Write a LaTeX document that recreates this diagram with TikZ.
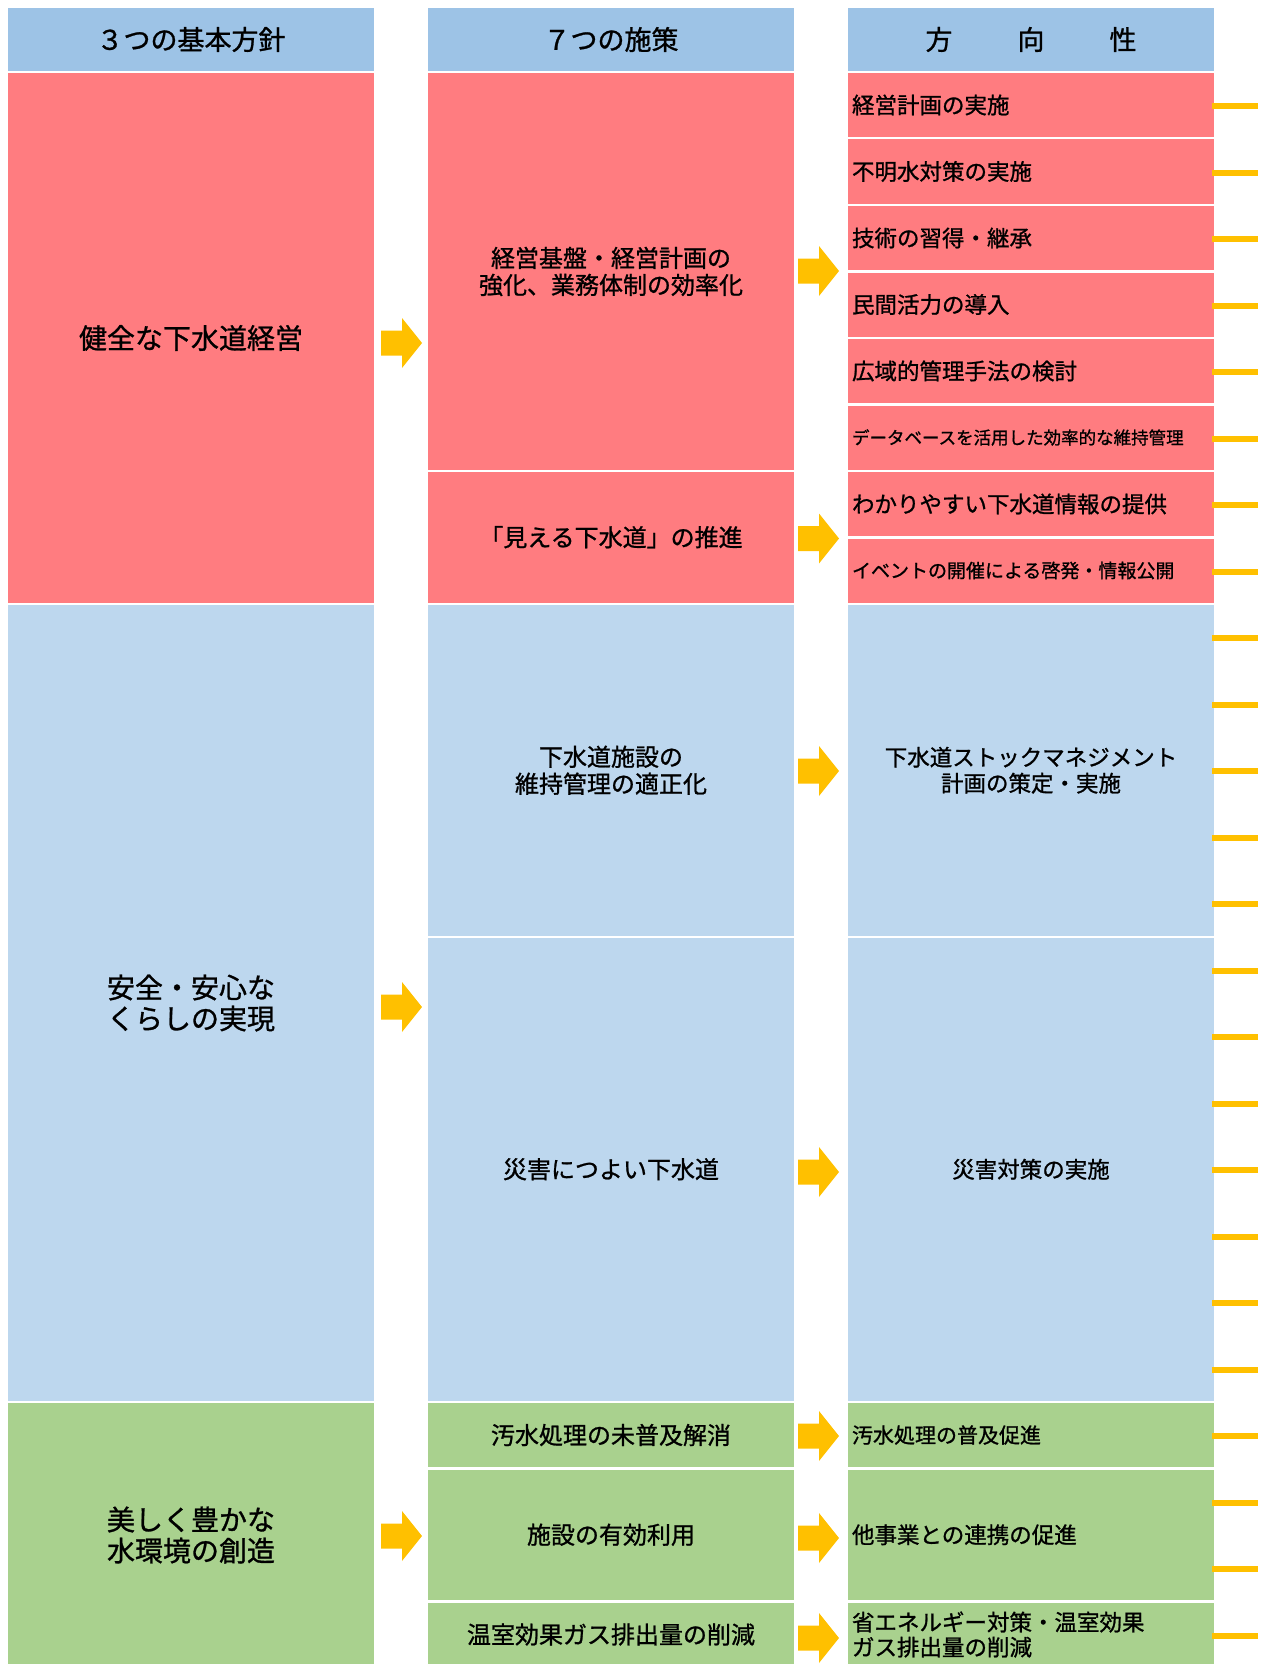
\documentclass[tikz,border=0pt]{standalone}
\usepackage{fontspec}
\setmainfont{Noto Sans CJK JP}[FakeBold=1]
\definecolor{hdr}{HTML}{9DC3E6}
\definecolor{redc}{HTML}{FF7C80}
\definecolor{bluec}{HTML}{BDD7EE}
\definecolor{greenc}{HTML}{A9D18E}
\definecolor{yelc}{HTML}{FFC000}
\newcommand{\fsz}[2]{\fontsize{#1}{#2}\selectfont}
\begin{document}
\begin{tikzpicture}[x=1pt,y=-1pt,
  box/.style={anchor=north west, minimum width=366, inner sep=0pt, outer sep=0pt, text=black, align=center},
  lbox/.style={box, text width=358, inner xsep=4pt, align=left},
  hdrbox/.style={box, fill=hdr, minimum height=63, font=\fsz{27}{31}},
  tickline/.style={draw=yelc, line width=6pt},
  blockarrow/.pic={\fill[yelc] (-20.5,-12.5) -- (0.5,-12.5) -- (0.5,-25) -- (20.5,0) -- (0.5,25) -- (0.5,12.5) -- (-20.5,12.5) -- cycle;}
]
\useasboundingbox (0,0) rectangle (1268,1664);
\clip (0,0) rectangle (1268,1664);

% headers
\node[hdrbox] (h1) at (8,8) {３つの基本方針};
\node[hdrbox] (h2) at (428,8) {７つの施策};
\node[hdrbox] (h3) at (848,8) {方\hspace{65pt}向\hspace{65pt}性};

% column 1
\node[box, fill=redc, minimum height=530, font=\fsz{28}{31}] (c1a) at (8,73) {健全な下水道経営};
\node[box, fill=bluec, minimum height=796, font=\fsz{28}{31}, align=left] (c1b) at (8,605) {安全・安心な\\くらしの実現};
\node[box, fill=greenc, minimum height=264, font=\fsz{28}{31}, align=left] (c1c) at (8,1403) {美しく豊かな\\水環境の創造};

% column 2
\node[box, fill=redc, minimum height=397, font=\fsz{24}{27}] (c2a) at (428,73) {経営基盤・経営計画の\\強化、業務体制の効率化};
\node[box, fill=redc, minimum height=130.5, font=\fsz{24}{27}] (c2b) at (428,472) {「見える下水道」の推進};
\node[box, fill=bluec, minimum height=330.5, font=\fsz{24}{27}] (c2c) at (428,605) {下水道施設の\\維持管理の適正化};
\node[box, fill=bluec, minimum height=463.5, font=\fsz{24}{27}] (c2d) at (428,937.5) {災害につよい下水道};
\node[box, fill=greenc, minimum height=64, font=\fsz{24}{27}] (c2e) at (428,1403) {汚水処理の未普及解消};
\node[box, fill=greenc, minimum height=130.5, font=\fsz{24}{27}] (c2f) at (428,1469.5) {施設の有効利用};
\node[box, fill=greenc, minimum height=64, font=\fsz{24}{27}] (c2g) at (428,1602.5) {温室効果ガス排出量の削減};

% column 3
\node[lbox, fill=redc, minimum height=64, font=\fsz{22.5}{26}] (c3a) at (848,73) {経営計画の実施};
\node[lbox, fill=redc, minimum height=64, font=\fsz{22.5}{26}] (c3b) at (848,139.5) {不明水対策の実施};
\node[lbox, fill=redc, minimum height=64, font=\fsz{22.5}{26}] (c3c) at (848,206) {技術の習得・継承};
\node[lbox, fill=redc, minimum height=64, font=\fsz{22.5}{26}] (c3d) at (848,272.5) {民間活力の導入};
\node[lbox, fill=redc, minimum height=64, font=\fsz{22.5}{26}] (c3e) at (848,339) {広域的管理手法の検討};
\node[lbox, fill=redc, minimum height=64, font=\fsz{17.5}{20}] (c3f) at (848,405.5) {データベースを活用した効率的な維持管理};
\node[lbox, fill=redc, minimum height=64, font=\fsz{22.5}{26}] (c3g) at (848,472) {わかりやすい下水道情報の提供};
\node[lbox, fill=redc, minimum height=64, font=\fsz{19}{22}] (c3h) at (848,538.5) {イベントの開催による啓発・情報公開};
\node[box, fill=bluec, minimum height=330.5, font=\fsz{22.5}{26}] (c3i) at (848,605) {下水道ストックマネジメント\\計画の策定・実施};
\node[box, fill=bluec, minimum height=463.5, font=\fsz{22.5}{26}] (c3j) at (848,937.5) {災害対策の実施};
\node[lbox, fill=greenc, minimum height=64, font=\fsz{21}{25}] (c3k) at (848,1403) {汚水処理の普及促進};
\node[lbox, fill=greenc, minimum height=130.5, font=\fsz{22.5}{26}] (c3l) at (848,1469.5) {他事業との連携の促進};
\node[lbox, fill=greenc, minimum height=64, font=\fsz{22.5}{25}] (c3m) at (848,1602.5) {省エネルギー対策・温室効果\\ガス排出量の削減};

% ticks on the right
\foreach \i in {0,...,23} {
  \coordinate (tl\i) at (1212,{106.25+66.5*\i});
  \coordinate (tr\i) at (1258,{106.25+66.5*\i});
  \draw[tickline] (tl\i) -- (tr\i);
}

% block arrows
\foreach \y in {343,1007,1536} { \pic at (401.5,\y) {blockarrow}; }
\foreach \y in {271,538.5,771,1172,1436,1538,1638} { \pic at (818.5,\y) {blockarrow}; }
\end{tikzpicture}
\end{document}
